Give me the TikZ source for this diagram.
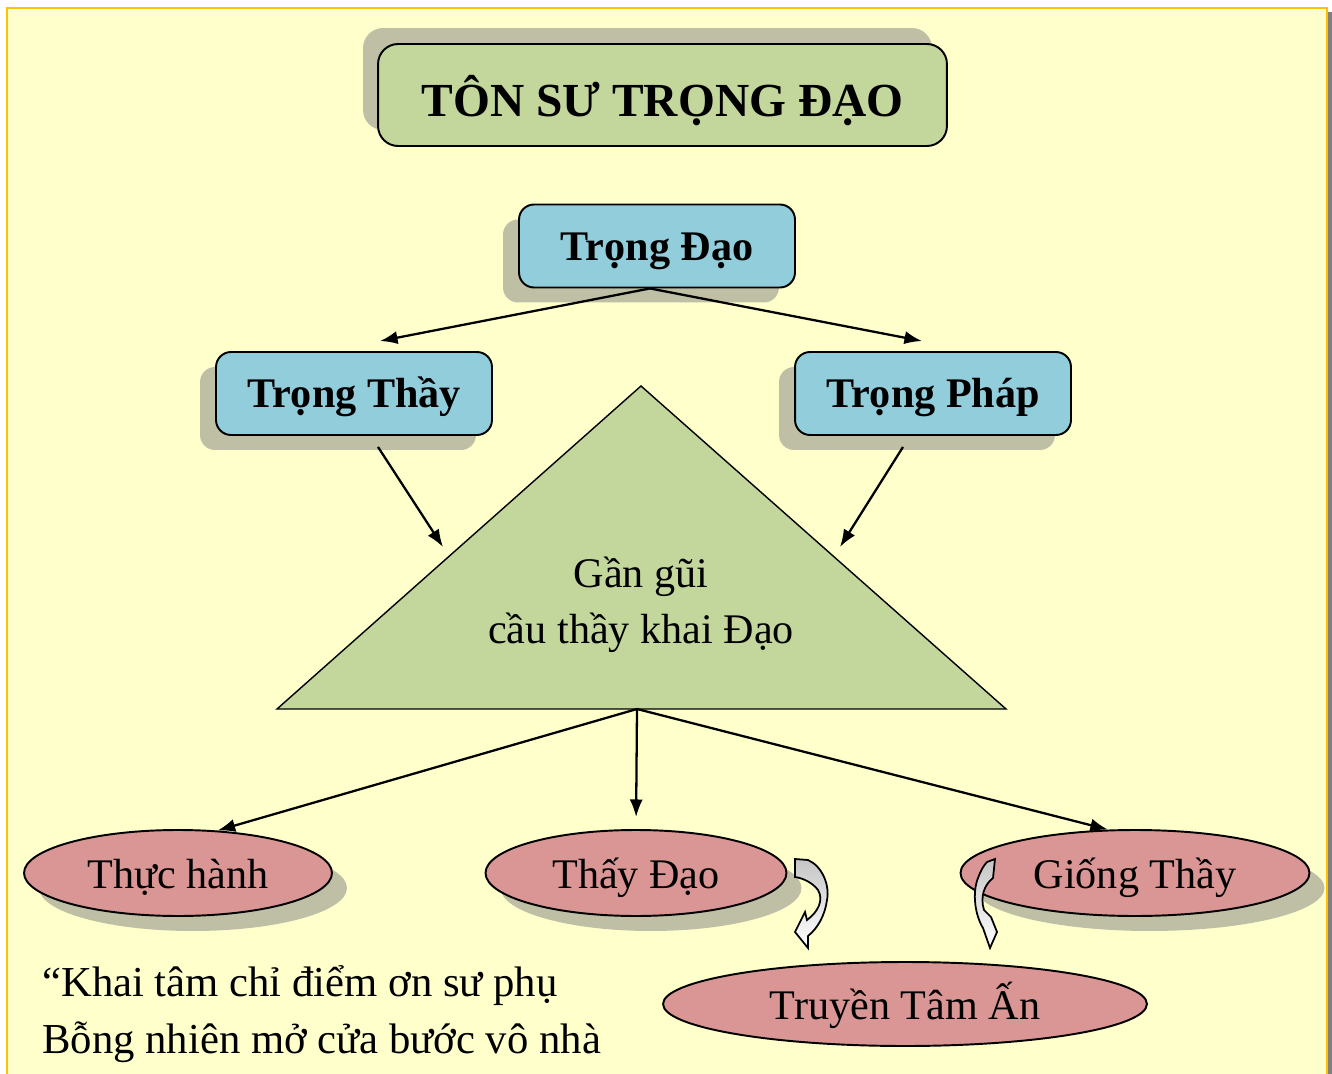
\documentclass[tikz,border=0pt]{standalone}
\usepackage{fontspec}
\setmainfont{Liberation Serif}
\usetikzlibrary{arrows.meta,positioning,shapes.geometric,shadows,calc}
\definecolor{slideyellow}{HTML}{FFFFCC}
\definecolor{frameorange}{HTML}{FFC000}
\definecolor{titlegreen}{HTML}{C3D69B}
\definecolor{boxblue}{HTML}{92CDDC}
\definecolor{ovalpink}{HTML}{D99694}
\definecolor{shadowolive}{HTML}{BFBFA5}

\begin{document}
\begin{tikzpicture}[x=0.02cm,y=-0.02cm,
    >={Latex[length=10pt,width=7.5pt]},
    titlebox/.style={draw,line width=1.1pt,rounded corners=0.4cm,fill=titlegreen,
                     minimum width=11.38cm,minimum height=2.04cm,
                     text height=25pt,text depth=0pt,
                     font=\fontsize{27}{32}\selectfont\bfseries,
                     drop shadow={shadow xshift=-0.3cm,shadow yshift=0.32cm,
                                  fill=shadowolive,opacity=1}},
    conceptbox/.style={draw,line width=1.1pt,rounded corners=0.3cm,fill=boxblue,
                       minimum width=5.52cm,minimum height=1.66cm,
                       text height=16pt,text depth=0pt,
                       font=\fontsize{24}{28}\selectfont\bfseries,
                       drop shadow={shadow xshift=-0.32cm,shadow yshift=-0.3cm,
                                    fill=shadowolive,opacity=1}},
    oval/.style={ellipse,draw,line width=1.1pt,fill=ovalpink,inner sep=0pt,
                 minimum height=1.72cm,text height=18pt,text depth=0pt,
                 font=\fontsize{24}{28}\selectfont},
    ovalshadow/.style={drop shadow={shadow xshift=0.3cm,shadow yshift=-0.3cm,
                                    fill=shadowolive,opacity=1}},
    link/.style={->,line width=1.3pt},
    turnarrow/.style={draw,line width=1pt,top color=gray!45,bottom color=white},
    verse/.style={font=\fontsize{24.3}{32.4}\selectfont,align=left,inner sep=0pt}
  ]
  \useasboundingbox (0,0) rectangle (1332,1074);
  \clip (0,0) rectangle (1332,1074);
  % slide background
  \fill[white] (0,0) rectangle (1332,1074);
  \fill[gray] (1327,12) rectangle (1332,1074);
  \draw[frameorange,line width=1.1pt,fill=slideyellow] (7,8) rectangle (1327,1100);

  % title and top boxes
  \node[titlebox] (title) at (662.5,95) {TÔN SƯ TRỌNG ĐẠO};
  \node[conceptbox] (tdao) at (657,246) {Trọng Đạo};
  \node[conceptbox] (tthay) at (354,393.5) {Trọng Thầy};
  \node[conceptbox] (tphap) at (933,393.5) {Trọng Pháp};

  % triangle
  \coordinate (apex) at (641,386);
  \coordinate (baseleft) at (277,709);
  \coordinate (baseright) at (1006,709);
  \coordinate (basemid) at (637,709);
  \draw[line width=0.8pt,fill=titlegreen] (apex) -- (baseright) -- (baseleft) -- cycle;
  \node[align=center,font=\fontsize{24}{32}\selectfont] (tri) at (641,605)
    {Gần gũi\\cầu thầy khai Đạo};
  \coordinate (tleft) at (443,547);
  \coordinate (tright) at (840,547);

  % ovals
  \node[oval,ovalshadow,minimum width=6.16cm] (thuc) at (178,873) {Thực hành};
  \node[oval,ovalshadow,minimum width=6.02cm] (thaydao) at (636,873) {Thấy Đạo};
  \node[oval,ovalshadow,minimum width=6.98cm] (giong) at (1135,873) {Giống Thầy};
  \node[oval,minimum width=9.68cm,minimum height=1.68cm] (truyen) at (905,1004) {Truyền Tâm Ấn};

  % connectors
  \draw[link] ($(tdao.south)+(-7,0)$) -- ($(tthay.north)+(26,-10)$);
  \draw[link] ($(tdao.south)+(-7,0)$) -- ($(tphap.north)+(-11,-10)$);
  \draw[link] ($(tthay.south)+(24,11)$) -- (tleft);
  \draw[link] ($(tphap.south)+(-30,11)$) -- (tright);
  \draw[link] (basemid) -- (thuc.47);
  \draw[link,shorten >=0.24cm] (basemid) -- (thaydao.north);
  \draw[link] (basemid) -- (giong.122);

  % curved arrows
  \path[turnarrow] (795,859) -- (808,860) .. controls (822,866) and (830,885) .. (827,900)
    .. controls (825,915) and (818,928) .. (808,936) -- (808,948) -- (795,932) -- (805,912)
    -- (807,920) .. controls (818,912) and (824,900) .. (818,890)
    .. controls (812,882) and (802,878) .. (795,877) -- cycle;
  \path[turnarrow] (987,862) -- (995,859) -- (993,878) .. controls (984,885) and (980,897) .. (984,910)
    -- (991,917) -- (997,932) -- (990,948) -- (983,928)
    .. controls (975,915) and (972,893) .. (978,878) .. controls (981,870) and (984,865) .. (987,862) -- cycle;

  % verse
  \node[verse,anchor=north west] (verse) at (42,965)
    {“Khai tâm chỉ điểm ơn sư phụ\\Bỗng nhiên mở cửa bước vô nhà};
\end{tikzpicture}
\end{document}
